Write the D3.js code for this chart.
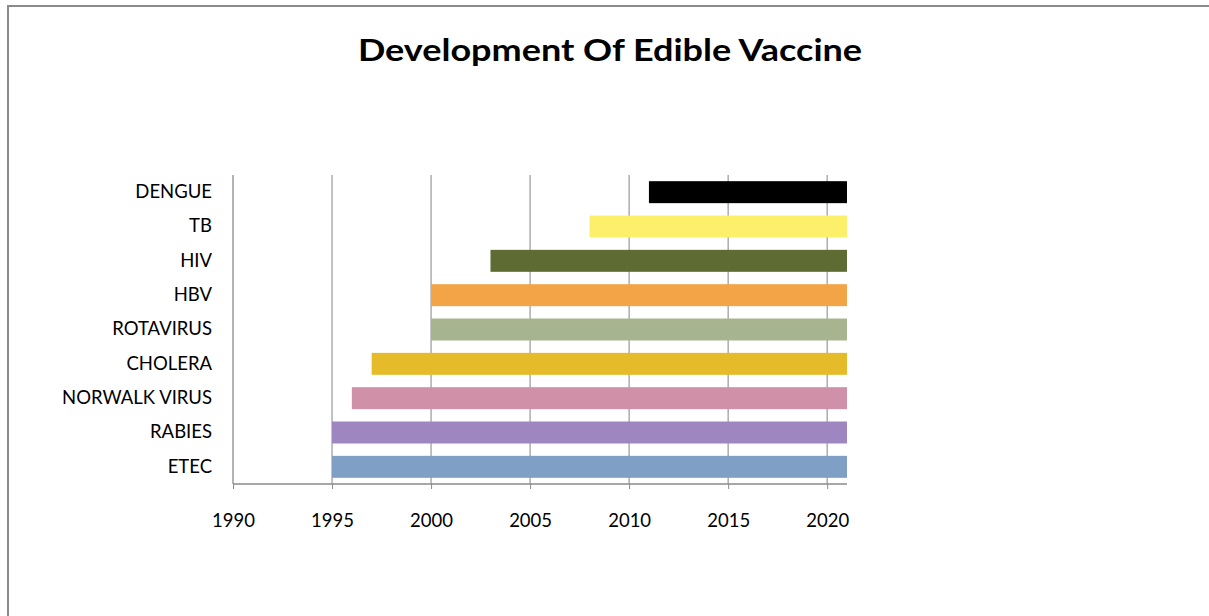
<!DOCTYPE html>
<html><head><meta charset="utf-8">
<script src="https://cdn.jsdelivr.net/npm/d3@7"></script>
<style>html,body{margin:0;padding:0;background:#fff;}svg{display:block;}</style>
</head><body>
<svg id="c" width="1209" height="616"></svg>
<script>
const categories = ["ETEC","RABIES","NORWALK VIRUS","CHOLERA","ROTAVIRUS","HBV","HIV","TB","DENGUE"];
const startYears = [1995,1995,1996,1997,2000,2000,2003,2008,2011];
const endYears   = [2021,2021,2021,2021,2021,2021,2021,2021,2021];
const barColors  = ["#7F9FC4","#9E86C1","#D091A8","#E5BB29","#A6B48F","#F2A446","#5E6B33","#FCEF6A","#000000"];
const xTicks = [1990,1995,2000,2005,2010,2015,2020];
const title = "Development Of Edible Vaccine";

const svg = d3.select("#c");
const font = "Lato, 'Open Sans', sans-serif";

// outer frame
svg.append("rect").attr("x",8).attr("y",6).attr("width",1300).attr("height",700)
  .attr("fill","#fff").attr("stroke","#8a8a8a").attr("stroke-width",2);

svg.append("text").attr("transform","translate(610,61) scale(1.2,1)").attr("text-anchor","middle")
  .attr("font-family",font).attr("font-weight","bold").attr("font-size",30)
  .attr("fill","#000").text(title);

const L=233, R=847, T=175, B=484;
const x = d3.scaleLinear().domain([1990,2021]).range([L,R]);
const y = d3.scaleBand().domain(categories.slice().reverse()).range([T,B]).paddingInner(0.36).paddingOuter(0.18);

const g = svg.append("g");
// gridlines
g.selectAll("line.grid").data(xTicks.slice(1)).join("line")
  .attr("x1",d=>x(d)).attr("x2",d=>x(d)).attr("y1",T).attr("y2",B)
  .attr("stroke","#a0a0a0").attr("stroke-width",1.3);

// bars
const data = categories.map((c,i)=>({c,s:startYears[i],e:endYears[i],col:barColors[i]}));
g.selectAll("rect.bar").data(data).join("rect")
  .attr("x",d=>x(d.s)).attr("width",d=>x(d.e)-x(d.s))
  .attr("y",d=>y(d.c)).attr("height",y.bandwidth())
  .attr("fill",d=>d.col);

// x axis
const xa = svg.append("g").attr("transform",`translate(0,${B})`)
  .call(d3.axisBottom(x).tickValues(xTicks).tickFormat(d3.format("d")).tickSize(5).tickPadding(25));
xa.select(".domain").attr("stroke","#8a8a8a").attr("stroke-width",1.3).attr("d",`M${L},0H${R}`);
xa.selectAll(".tick line").attr("stroke","#8a8a8a");
xa.selectAll("text").attr("font-family",font).attr("font-size",18.5).attr("fill","#000");

// y axis
const ya = svg.append("g").attr("transform",`translate(${L},0)`)
  .call(d3.axisLeft(y).tickSize(0).tickPadding(21));
ya.select(".domain").attr("stroke","#8a8a8a").attr("stroke-width",1.3).attr("d",`M0,${T}V${B}`);
ya.selectAll("text").attr("font-family",font).attr("font-size",18.5).attr("fill","#000");
</script>
</body></html>
